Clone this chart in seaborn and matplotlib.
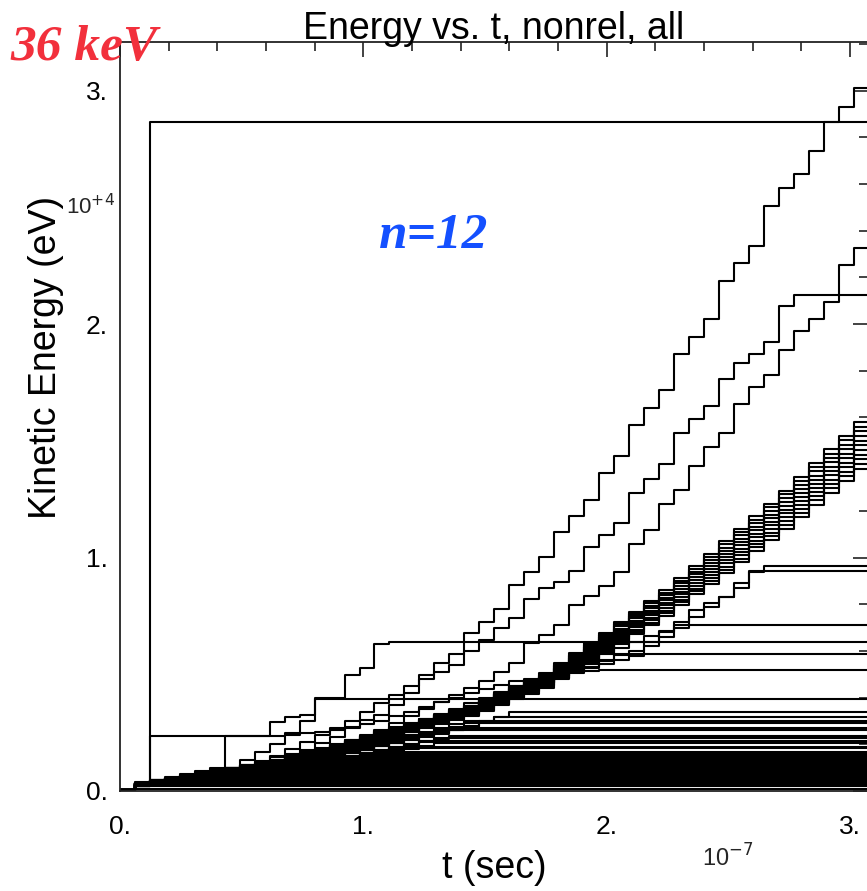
import numpy as np
import pandas as pd
import matplotlib
matplotlib.use("Agg")
import matplotlib.pyplot as plt
import seaborn as sns
from matplotlib.ticker import MultipleLocator, FuncFormatter

# ---------------- data (t in 1e-7 s, E in 1e4 eV) ----------------
STEP_T0 = 0.0604     # time of first gap crossing
STEP_DT = 0.0616     # time between gap crossings (read from the staircase)
N_STEPS = 49         # crossings visible in the window
E_START = 0.004      # energy before the first crossing
T_END = 3.074        # right edge of the plot

# individually traced trajectories: (crossing index, energy) anchors
traj_A = [(0, 0.034), (5, 0.08), (11, 0.176), (12, 0.206), (13, 0.231), (14, 0.270),
          (15, 0.304), (16, 0.325), (17, 0.37), (18, 0.42), (19, 0.497), (20, 0.548),
          (21, 0.587), (22, 0.678), (23, 0.725), (24, 0.78), (25, 0.884), (26, 0.938),
          (27, 1.002), (28, 1.109), (29, 1.179), (30, 1.246), (31, 1.363), (32, 1.435),
          (33, 1.567), (34, 1.642), (35, 1.717), (36, 1.872), (37, 1.946), (38, 2.02),
          (39, 2.185), (40, 2.26), (41, 2.335), (42, 2.507), (43, 2.582), (44, 2.641),
          (45, 2.742), (46, 2.865), (47, 2.929), (48, 3.011)]
traj_B2 = [(0, 0.034), (8, 0.12), (14, 0.30), (18, 0.45), (21, 0.54), (22, 0.60),
           (23, 0.647), (24, 0.70), (25, 0.741), (26, 0.822), (27, 0.869), (28, 0.896),
           (29, 0.943), (30, 1.046), (31, 1.096), (32, 1.149), (33, 1.275), (34, 1.335),
           (35, 1.40), (36, 1.532), (37, 1.593), (38, 1.649), (39, 1.764), (40, 1.834),
           (41, 1.871), (42, 1.922), (43, 2.077), (44, 2.124)]
traj_B3 = [(0, 0.034), (10, 0.13), (16, 0.26), (20, 0.38), (23, 0.47), (25, 0.548),
           (26, 0.634), (27, 0.668), (28, 0.711), (29, 0.797), (30, 0.835), (31, 0.878),
           (32, 0.938), (33, 1.058), (34, 1.118), (35, 1.229), (36, 1.289), (37, 1.392),
           (38, 1.475), (39, 1.534), (40, 1.657), (41, 1.731), (42, 1.782), (43, 1.889),
           (44, 1.971), (45, 2.02), (46, 2.096), (47, 2.253), (48, 2.325)]
traj_C = [(0, 0.034), (1, 0.235), (8, 0.235), (9, 0.297), (10, 0.318), (11, 0.325),
          (12, 0.398), (13, 0.398), (14, 0.497), (15, 0.527), (16, 0.630), (17, 0.636)]
traj_D = [(0, 0.034), (1, 2.865)]
traj_P398 = [(0, 0.034), (6, 0.10), (9, 0.20), (11, 0.30), (12, 0.395)]
traj_F = [(0, 0.034), (5, 0.10), (6, 0.235), (9, 0.235), (13, 0.26), (16, 0.30),
          (19, 0.36), (22, 0.42), (25, 0.47), (28, 0.50), (31, 0.518)]
traj_P965 = [(0, 0.034), (15, 0.20), (25, 0.45), (33, 0.60), (34, 0.639), (35, 0.682),
             (36, 0.725), (37, 0.775), (38, 0.806), (39, 0.832), (40, 0.892), (41, 0.939),
             (42, 0.964)]
traj_P943 = [(0, 0.034), (15, 0.19), (25, 0.44), (33, 0.58), (36, 0.70), (38, 0.79),
             (40, 0.87), (41, 0.943)]
traj_P711 = [(0, 0.034), (15, 0.19), (25, 0.42), (30, 0.56), (33, 0.64), (36, 0.711)]
traj_P587 = [(0, 0.034), (15, 0.18), (25, 0.42), (30, 0.53), (32, 0.587)]

# the main accelerated bunch: centre path and energies reached at the last crossing
BAND_SHAPE = [(0, 0.034), (7, 0.09), (15, 0.22), (22, 0.34), (27, 0.47), (31, 0.63),
              (35, 0.80), (38.5, 0.97), (42.5, 1.17), (48, 1.47)]
BAND_FINAL = [1.58, 1.56, 1.54, 1.52, 1.50, 1.48, 1.46, 1.44, 1.42, 1.40, 1.38]
# particles that leave the bunch: (crossing index when lost, energy kept)
BAND_LOST_MID = [(25, 0.340), (24, 0.318), (22, 0.300), (22, 0.290), (21, 0.270),
                 (21, 0.260), (21, 0.236), (20, 0.227), (19, 0.215), (20, 0.205),
                 (18, 0.190), (17, 0.184), (16, 0.168), (16, 0.160), (15, 0.155)]
BAND_LOST_LOW = [(0, 0.010), (0, 0.020), (1, 0.030), (1, 0.036), (2, 0.042), (3, 0.047),
                 (3, 0.052), (4, 0.057), (5, 0.062), (5, 0.067), (6, 0.072), (7, 0.077),
                 (7, 0.082), (8, 0.087), (9, 0.092), (9, 0.097), (10, 0.102), (10, 0.107),
                 (11, 0.112), (12, 0.117), (12, 0.122), (13, 0.127), (13, 0.132),
                 (14, 0.137), (14, 0.142), (15, 0.147)]

X_TICKS = [0, 1, 2, 3]
Y_TICKS = [0, 1, 2, 3]

# ---------------- build long table ----------------
ks = np.arange(N_STEPS)
t_steps = STEP_T0 + STEP_DT * ks


def from_anchors(anchors):
    a = np.array(anchors, dtype=float)
    return np.interp(ks, a[:, 0], a[:, 1])


shape_arr = np.array(BAND_SHAPE, dtype=float)
shape = np.interp(ks, shape_arr[:, 0], shape_arr[:, 1])

tracks = []
for tr in [traj_A, traj_B2, traj_B3, traj_C, traj_D, traj_P398, traj_F,
           traj_P965, traj_P943, traj_P711, traj_P587]:
    tracks.append(from_anchors(tr))
for ef in BAND_FINAL:
    tracks.append(shape * ef / shape[-1])
for kl, el in BAND_LOST_MID + BAND_LOST_LOW:
    e = shape * el / shape[kl]
    e[kl:] = el
    tracks.append(e)

rows = []
for pid, e in enumerate(tracks):
    tt = np.concatenate([[0.0], t_steps, [T_END + 0.05]])
    ee = np.concatenate([[E_START], e, [e[-1]]])
    rows.append(pd.DataFrame({"t": tt, "E": ee, "particle": pid}))
df = pd.concat(rows, ignore_index=True)

# ---------------- figure ----------------
sns.set_theme(style="white")
plt.rcParams["font.family"] = ["Liberation Sans", "DejaVu Sans"]

W, H = 867, 891
fig = plt.figure(figsize=(W / 100, H / 100), dpi=100)
left_px, right_px, top_px, bot_px = 120, 868, 42, 791
ax = fig.add_axes([left_px / W, (H - bot_px) / H, (right_px - left_px) / W,
                   (bot_px - top_px) / H])

sns.lineplot(data=df, x="t", y="E", units="particle", estimator=None, sort=False,
             drawstyle="steps-post", color="black", linewidth=1.5, ax=ax,
             legend=False)

ax.set_xlim(0, (right_px - left_px) / 243.3)
ax.set_ylim(0, (bot_px - top_px) / 233.5)

for s in ax.spines.values():
    s.set_visible(True)
    s.set_color("#222222")
    s.set_linewidth(1.3)

ax.xaxis.set_major_locator(plt.FixedLocator(X_TICKS))
ax.yaxis.set_major_locator(plt.FixedLocator(Y_TICKS))
ax.xaxis.set_minor_locator(MultipleLocator(0.2))
ax.yaxis.set_minor_locator(MultipleLocator(0.2))
fmt = FuncFormatter(lambda v, p: f"{int(round(v))}.")
ax.xaxis.set_major_formatter(fmt)
ax.yaxis.set_major_formatter(fmt)
ax.tick_params(which="both", direction="in", top=True, right=True,
               color="#222222", width=1.2, labelsize=19, labelcolor="black")
ax.tick_params(which="major", length=11)
ax.tick_params(which="minor", length=6.5)
ax.tick_params(axis="x", pad=17)
ax.tick_params(axis="y", pad=9)

ax.set_title("Energy vs. t, nonrel, all", fontsize=27, pad=2, color="black")
ax.set_xlabel("t (sec)", fontsize=27, color="black")
ax.xaxis.set_label_coords((494 - left_px) / (right_px - left_px),
                          (bot_px - 868) / (bot_px - top_px))
ax.xaxis.label.set_va("center")
ax.set_ylabel("Kinetic Energy (eV)", fontsize=27, color="black")
ax.yaxis.set_label_coords((46 - left_px) / (right_px - left_px),
                          (bot_px - 357) / (bot_px - top_px))
ax.yaxis.label.set_va("center")
ax.yaxis.label.set_ha("center")

fig.text(728 / W, 1 - 858 / H, r"10$^{-7}$", fontsize=17, ha="center", va="center")
fig.text(90 / W, 1 - 207 / H, r"10$^{+4}$", fontsize=16, ha="center", va="center")

fig.text(10 / W, 1 - 60 / H, "36 keV", fontsize=37, color="#f2303c",
         family="Liberation Serif", weight="bold", style="italic",
         ha="left", va="baseline")
fig.text(379 / W, 1 - 248 / H, "n=12", fontsize=37, color="#1450ff",
         family="Liberation Serif", weight="bold", style="italic",
         ha="left", va="baseline")

fig.savefig("out.png", dpi=100)
